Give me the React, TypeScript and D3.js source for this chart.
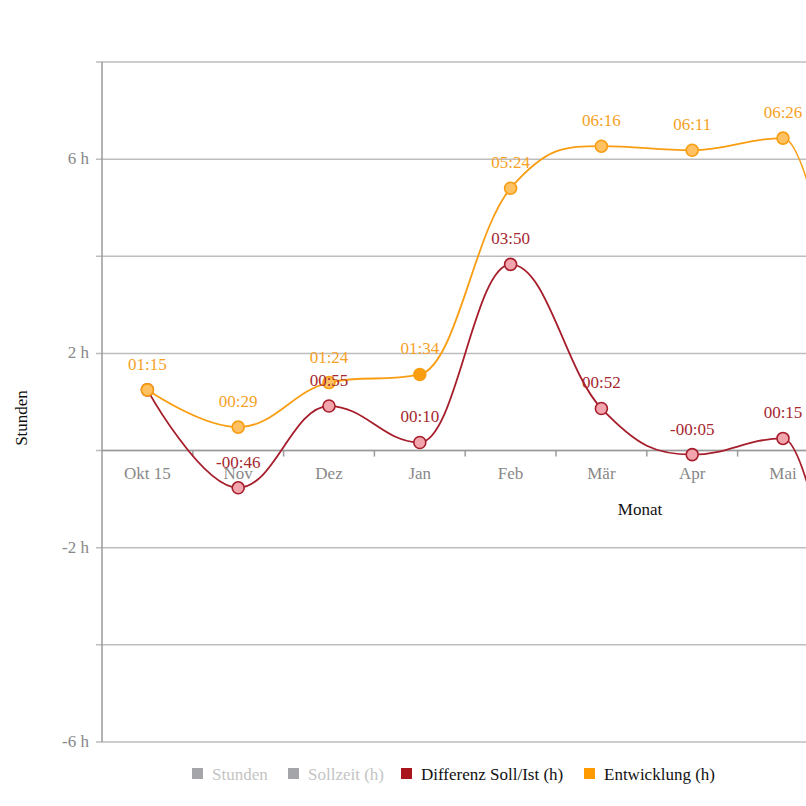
import React from 'react';
import * as d3 from 'd3';

// categories and values (hh:mm as shown in the chart labels)
const months = ['Okt 15', 'Nov', 'Dez', 'Jan', 'Feb', 'Mär', 'Apr', 'Mai', 'Jun', 'Jul', 'Aug', 'Sep'];
const diffLabels = ['01:15', '-00:46', '00:55', '00:10', '03:50', '00:52', '-00:05', '00:15', '-08:06'];
const trendLabels = ['01:15', '00:29', '01:24', '01:34', '05:24', '06:16', '06:11', '06:26', '-01:40'];
const yTicks = [-6, -4, -2, 0, 2, 4, 6, 8];
const yLabelled = [-6, -2, 2, 6];
const legendItems = ['Stunden', 'Sollzeit (h)', 'Differenz Soll/Ist (h)', 'Entwicklung (h)'];
const legendHidden = [true, true, false, false];

const toHours = (s: string) => {
  const neg = s.startsWith('-');
  const [h, m] = s.replace('-', '').split(':').map(Number);
  return (neg ? -1 : 1) * (h + m / 60);
};

const W = 806;
const FONT = '"Liberation Serif", "Times New Roman", serif';
const RED = '#a61d2b';
const RED_FILL = '#f2a5ad';
const ORANGE = '#f99d12';
const ORANGE_FILL = '#ffc162';
const highlighted = 3;

// Highcharts-like spline through the points
function splinePath(pts: [number, number][]) {
  const p = d3.path();
  const rc: { x: number; y: number }[] = [];
  const smoothing = 1.5;
  const denom = smoothing + 1;
  pts.forEach(([x, y], i) => {
    let lcx = x, lcy = y, rcx = x, rcy = y;
    const last = pts[i - 1];
    const next = pts[i + 1];
    if (last && next) {
      lcx = (smoothing * x + last[0]) / denom;
      lcy = (smoothing * y + last[1]) / denom;
      rcx = (smoothing * x + next[0]) / denom;
      rcy = (smoothing * y + next[1]) / denom;
      let corr = 0;
      if (rcx !== lcx) corr = ((rcy - lcy) * (rcx - x)) / (rcx - lcx) + y - rcy;
      lcy += corr;
      rcy += corr;
      if (lcy > last[1] && lcy > y) {
        lcy = Math.max(last[1], y);
        rcy = 2 * y - lcy;
      } else if (lcy < last[1] && lcy < y) {
        lcy = Math.min(last[1], y);
        rcy = 2 * y - lcy;
      }
      if (rcy > next[1] && rcy > y) {
        rcy = Math.max(next[1], y);
        lcy = 2 * y - rcy;
      } else if (rcy < next[1] && rcy < y) {
        rcy = Math.min(next[1], y);
        lcy = 2 * y - rcy;
      }
    }
    rc[i] = { x: rcx, y: rcy };
    if (i === 0) p.moveTo(x, y);
    else p.bezierCurveTo(rc[i - 1].x, rc[i - 1].y, lcx, lcy, x, y);
  });
  return p.toString();
}

export default function App() {
  const left = 102;
  const bandW = 90.8;
  const x = d3.scaleBand<string>().domain(months).range([left, left + bandW * months.length]);
  const y = d3.scaleLinear().domain([-6, 8]).range([742, 62]);
  const cx = (i: number) => x(months[i])! + x.bandwidth() / 2;

  const diff = diffLabels.map(toHours);
  const trend = trendLabels.map(toHours);
  const diffPts = diff.map((v, i) => [cx(i), y(v)] as [number, number]);
  const trendPts = trend.map((v, i) => [cx(i), y(v)] as [number, number]);

  // labels, hide ones colliding with already placed labels or outside the view
  const placed: { x0: number; x1: number; y0: number; y1: number }[] = [];
  const makeLabels = (pts: [number, number][], texts: string[], color: string) =>
    pts.map(([px, py], i) => {
      const w = texts[i].length * 7.8;
      const box = { x0: px - w / 2, x1: px + w / 2, y0: py - 33, y1: py - 19 };
      if (box.x1 > W || box.y0 < 0 || py > 742) return null;
      const hit = placed.some(b => b.x0 < box.x1 && b.x1 > box.x0 && b.y0 < box.y1 && b.y1 > box.y0);
      if (hit) return null;
      placed.push(box);
      return (
        <text key={color + i} x={px} y={py - 20} textAnchor="middle" fill={color} fontSize={17}>
          {texts[i]}
        </text>
      );
    });
  const trendText = makeLabels(trendPts, trendLabels, '#f6a126');
  const diffText = makeLabels(diffPts, diffLabels, '#a6282f');

  const plotRight = x.range()[1];
  const legendX = [192, 288, 401, 584];
  const legendColors = ['#a3a5a8', '#a3a5a8', '#a8151c', '#ff9a00'];

  return (
    <svg width={W} height={806} style={{ position: 'fixed', top: 0, left: 0, background: '#fff' }} fontFamily={FONT}>
      {/* grid */}
      {yTicks.map(t => (
        <line key={t} x1={left - 6} x2={plotRight} y1={y(t)} y2={y(t)} stroke="#bdbdbd" strokeWidth={1.5} />
      ))}
      {yLabelled.map(t => (
        <text key={t} x={89} y={y(t) + 5} textAnchor="end" fill="#888" fontSize={17}>
          {`${t} h`}
        </text>
      ))}
      <line x1={left} x2={left} y1={62} y2={742} stroke="#9a9a9a" strokeWidth={1.5} />
      {/* x axis at zero */}
      <line x1={left} x2={plotRight} y1={y(0)} y2={y(0)} stroke="#9a9a9a" strokeWidth={1.5} />
      {months.slice(1).map(m => (
        <line key={m} x1={x(m)!} x2={x(m)!} y1={y(0)} y2={y(0) + 6} stroke="#9a9a9a" strokeWidth={1.5} />
      ))}
      {months.map((m, i) =>
        cx(i) + 20 < W ? (
          <text key={m} x={cx(i)} y={y(0) + 28} textAnchor="middle" fill="#888" fontSize={17}>
            {m}
          </text>
        ) : null
      )}
      <text x={640} y={515} textAnchor="middle" fill="#111" fontSize={17}>Monat</text>
      <text transform="translate(27,418) rotate(-90)" textAnchor="middle" fill="#111" fontSize={17}>Stunden</text>

      {/* series */}
      <path d={splinePath(diffPts)} fill="none" stroke={RED} strokeWidth={1.8} />
      {diffPts.map(([px, py], i) => (
        <circle key={i} cx={px} cy={py} r={6} fill={RED_FILL} stroke={RED} strokeWidth={1.6} />
      ))}
      <path d={splinePath(trendPts)} fill="none" stroke={ORANGE} strokeWidth={1.8} />
      {trendPts.map(([px, py], i) => (
        <circle key={i} cx={px} cy={py} r={6} fill={i === highlighted ? ORANGE : ORANGE_FILL} stroke={ORANGE} strokeWidth={1.6} />
      ))}
      {trendText}
      {diffText}

      {/* legend */}
      {legendItems.map((name, i) => (
        <g key={name}>
          <rect x={legendX[i]} y={768} width={11} height={11} fill={legendColors[i]} />
          <text x={legendX[i] + 20} y={780} fontSize={17} fill={legendHidden[i] ? '#c4c4c4' : '#111'}>
            {name}
          </text>
        </g>
      ))}
    </svg>
  );
}
